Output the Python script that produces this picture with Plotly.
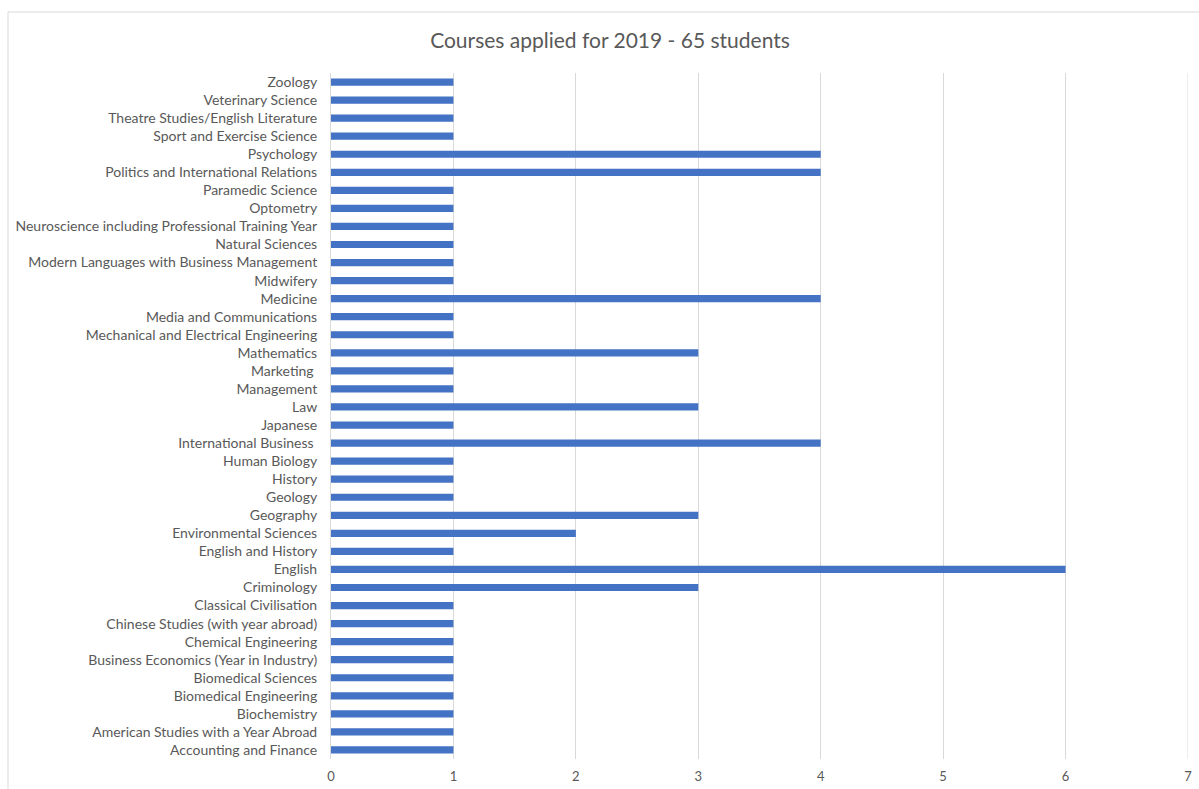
import plotly.graph_objects as go

courses = [
    "Accounting and Finance",
    "American Studies with a Year Abroad",
    "Biochemistry",
    "Biomedical Engineering",
    "Biomedical Sciences",
    "Business Economics (Year in Industry)",
    "Chemical Engineering",
    "Chinese Studies (with year abroad)",
    "Classical Civilisation",
    "Criminology",
    "English",
    "English and History",
    "Environmental Sciences",
    "Geography",
    "Geology",
    "History",
    "Human Biology",
    "International Business ",
    "Japanese",
    "Law",
    "Management",
    "Marketing ",
    "Mathematics",
    "Mechanical and Electrical Engineering",
    "Media and Communications",
    "Medicine",
    "Midwifery",
    "Modern Languages with Business Management",
    "Natural Sciences",
    "Neuroscience including Professional Training Year",
    "Optometry",
    "Paramedic Science",
    "Politics and International Relations",
    "Psychology",
    "Sport and Exercise Science",
    "Theatre Studies/English Literature",
    "Veterinary Science",
    "Zoology",
]
applicants = [1, 1, 1, 1, 1, 1, 1, 1, 1, 3, 6, 1, 2, 3, 1, 1, 1, 4, 1, 3,
              1, 1, 3, 1, 1, 4, 1, 1, 1, 1, 1, 1, 4, 4, 1, 1, 1, 1]
x_ticks = [0, 1, 2, 3, 4, 5, 6, 7]

W, H = 1199, 789
L, R, T, B = 331, 11, 73, 30
pw, ph = W - L - R, H - T - B

font_family = "Lato, 'Open Sans', sans-serif"
grey = "#595959"
grid = "#d9d9d9"

fig = go.Figure(
    go.Bar(
        x=applicants,
        y=courses,
        orientation="h",
        marker=dict(color="#4472C4", line=dict(width=0)),
        width=0.4,
    )
)

# gridline at the right edge of the value axis
fig.add_shape(type="line", xref="x", yref="paper",
              x0=x_ticks[-1], x1=x_ticks[-1], y0=0, y1=1,
              line=dict(color=grid, width=1), layer="below")

# chart-area border (left and top edges visible)
bx0 = (8 - L) / pw
by1 = 1 + (T - 12) / ph
fig.add_shape(type="line", xref="paper", yref="paper",
              x0=bx0, x1=bx0, y0=-0.2, y1=by1,
              line=dict(color=grid, width=1))
fig.add_shape(type="line", xref="paper", yref="paper",
              x0=bx0, x1=1.2, y0=by1, y1=by1,
              line=dict(color=grid, width=1))

fig.update_layout(
    width=W, height=H,
    margin=dict(l=L, r=R, t=T, b=B, pad=0, autoexpand=False),
    paper_bgcolor="white",
    plot_bgcolor="white",
    showlegend=False,
    bargap=0.6,
    title=dict(
        text="Courses applied for 2019 - 65 students",
        x=610 / W, xref="container", xanchor="center",
        y=1 - 41 / H, yref="container", yanchor="middle",
        font=dict(family=font_family, size=21, color=grey),
    ),
    font=dict(family=font_family, size=14, color=grey),
)

fig.update_xaxes(
    range=[0, 7],
    tickvals=x_ticks,
    automargin=False,
    showgrid=True, gridcolor=grid, gridwidth=1,
    zeroline=False, showline=False,
    ticks="", ticklabelstandoff=8,
    tickfont=dict(size=13, color=grey),
)
fig.update_yaxes(
    categoryorder="array", categoryarray=courses,
    range=[-0.5, len(courses) - 0.5],
    automargin=False,
    showgrid=False, zeroline=False,
    showline=True, linecolor=grid, linewidth=1,
    ticks="", ticklabelstandoff=10,
    tickfont=dict(size=14, color=grey),
)

fig.write_html("out.html")
